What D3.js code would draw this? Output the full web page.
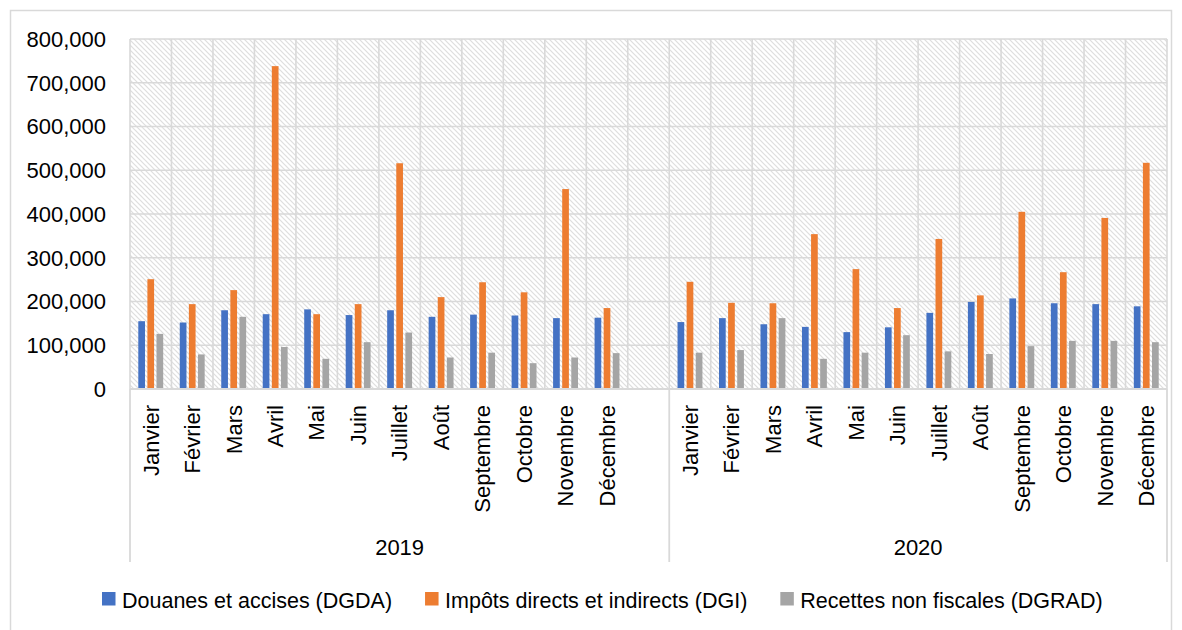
<!DOCTYPE html>
<html>
<head>
<meta charset="utf-8">
<script src="https://cdn.jsdelivr.net/npm/d3@7"></script>
<style>
  html, body { margin: 0; padding: 0; background: #fff; }
  svg { display: block; font-family: "Liberation Sans", Arial, sans-serif; }
</style>
</head>
<body>
<svg id="chart" width="1182" height="630"></svg>
<script>
// Monthly revenue by collecting agency, 2019–2020
const years = ["2019", "2020"];
const months = ["Janvier", "Février", "Mars", "Avril", "Mai", "Juin", "Juillet",
                "Août", "Septembre", "Octobre", "Novembre", "Décembre"];
const seriesNames = ["Douanes et accises (DGDA)", "Impôts directs et indirects (DGI)", "Recettes non fiscales (DGRAD)"];
const seriesColors = ["#4472C4", "#ED7D31", "#A5A5A5"];

const dgda2019 = [155000, 152000, 180000, 171000, 182000, 169000, 180000, 165000, 170000, 168000, 162000, 163000];
const dgi2019  = [251000, 194000, 226000, 738000, 171000, 194000, 516000, 210000, 244000, 221000, 457000, 185000];
const dgrad2019 = [126000, 79000, 165000, 96000, 69000, 107000, 129000, 72000, 83000, 59000, 72000, 82000];

const dgda2020 = [153000, 162000, 148000, 142000, 130000, 141000, 174000, 199000, 207000, 196000, 194000, 189000];
const dgi2020  = [245000, 197000, 196000, 354000, 274000, 185000, 343000, 214000, 405000, 267000, 391000, 517000];
const dgrad2020 = [83000, 89000, 162000, 69000, 83000, 123000, 86000, 80000, 98000, 110000, 110000, 107000];

const yTicks = [0, 100000, 200000, 300000, 400000, 500000, 600000, 700000, 800000];

// Category slots: 12 months of 2019, one empty slot, 12 months of 2020
const slots = [];
months.forEach((m, i) => slots.push({ key: "2019-" + i, year: "2019", month: m,
  values: [dgda2019[i], dgi2019[i], dgrad2019[i]] }));
slots.push({ key: "2019-blank", year: "2019", month: "", values: null });
months.forEach((m, i) => slots.push({ key: "2020-" + i, year: "2020", month: m,
  values: [dgda2020[i], dgi2020[i], dgrad2020[i]] }));

const svg = d3.select("#chart");
const plot = { left: 130, right: 1167, top: 39, bottom: 389 };
const gridColor = "#D9D9D9";
const textColor = "#000";
const fontSize = 22;

// Outer chart frame
svg.append("rect")
  .attr("x", 10.5).attr("y", 10.5).attr("width", 1161).attr("height", 640)
  .attr("fill", "#fff").attr("stroke", gridColor).attr("stroke-width", 1.5);

// Diagonal hatch for the plot background
const defs = svg.append("defs");
const pat = defs.append("pattern")
  .attr("id", "hatch").attr("patternUnits", "userSpaceOnUse")
  .attr("width", 5).attr("height", 5);
pat.append("rect").attr("width", 5).attr("height", 5).attr("fill", "#fff");
pat.append("path")
  .attr("d", "M-1,-1 L6,6 M-1,4 L1,6 M4,-1 L6,1")
  .attr("stroke", "#DEDEDE").attr("stroke-width", 1.2);

const x = d3.scaleBand().domain(slots.map(d => d.key)).range([plot.left, plot.right]).padding(0);
const y = d3.scaleLinear().domain([0, 800000]).range([plot.bottom, plot.top]);

const barW = 6.7, barStep = 9.1;
const xInner = d3.scaleBand().domain(d3.range(3))
  .range([0, 2 * barStep + barW]).paddingInner(1 - barW / barStep).paddingOuter(0);

svg.append("rect")
  .attr("x", plot.left).attr("y", plot.top)
  .attr("width", plot.right - plot.left).attr("height", plot.bottom - plot.top)
  .attr("fill", "url(#hatch)");

// Horizontal gridlines
svg.append("g").selectAll("line").data(yTicks).join("line")
  .attr("x1", plot.left).attr("x2", plot.right)
  .attr("y1", d => y(d)).attr("y2", d => y(d))
  .attr("stroke", gridColor).attr("stroke-width", 1.6);

// Vertical gridlines at category boundaries
const boundaries = slots.map(d => x(d.key)).concat([plot.right]);
svg.append("g").selectAll("line").data(boundaries).join("line")
  .attr("x1", d => d).attr("x2", d => d)
  .attr("y1", plot.top).attr("y2", plot.bottom)
  .attr("stroke", gridColor).attr("stroke-width", 1.6);

// Bars
const groups = svg.append("g").selectAll("g")
  .data(slots.filter(d => d.values)).join("g")
  .attr("transform", d => `translate(${x(d.key) + x.bandwidth() / 2 - (2 * barStep + barW) / 2},0)`);
groups.selectAll("rect")
  .data(d => d.values.map((v, i) => ({ v, i }))).join("rect")
  .attr("x", d => xInner(d.i)).attr("width", xInner.bandwidth())
  .attr("y", d => y(d.v)).attr("height", d => y(0) - y(d.v))
  .attr("fill", d => seriesColors[d.i]);

// Y axis labels
const fmt = d3.format(",");
svg.append("g").selectAll("text").data(yTicks).join("text")
  .attr("x", 106).attr("y", d => y(d)).attr("dy", "0.36em")
  .attr("text-anchor", "end").attr("font-size", fontSize).attr("fill", textColor)
  .text(d => fmt(d));

// Category axis: baseline and group separators
svg.append("line")
  .attr("x1", plot.left).attr("x2", plot.right)
  .attr("y1", plot.bottom).attr("y2", plot.bottom)
  .attr("stroke", gridColor).attr("stroke-width", 1.8);
const yearEdges = [plot.left, x("2020-0"), plot.right];
svg.append("g").selectAll("line").data(yearEdges).join("line")
  .attr("x1", d => d).attr("x2", d => d)
  .attr("y1", plot.bottom).attr("y2", 562)
  .attr("stroke", gridColor).attr("stroke-width", 1.8);

// Month labels, rotated
svg.append("g").selectAll("text").data(slots.filter(d => d.month)).join("text")
  .attr("transform", d => `translate(${x(d.key) + x.bandwidth() / 2 + 7.8},405) rotate(-90)`)
  .attr("text-anchor", "end").attr("font-size", fontSize).attr("fill", textColor)
  .text(d => d.month);

// Year labels
svg.append("g").selectAll("text").data(years).join("text")
  .attr("x", (d, i) => (yearEdges[i] + yearEdges[i + 1]) / 2)
  .attr("y", 555).attr("text-anchor", "middle")
  .attr("font-size", fontSize).attr("fill", textColor)
  .text(d => d);

// Legend
const legend = svg.append("g");
let lx = 102;
seriesNames.forEach((name, i) => {
  legend.append("rect").attr("x", lx).attr("y", 592).attr("width", 13.5).attr("height", 13.5)
    .attr("fill", seriesColors[i]);
  const t = legend.append("text").attr("x", lx + 20).attr("y", 607.5)
    .attr("font-size", 21.5).attr("fill", textColor).text(name);
  lx += 20 + t.node().getComputedTextLength() + 33;
});
</script>
</body>
</html>
